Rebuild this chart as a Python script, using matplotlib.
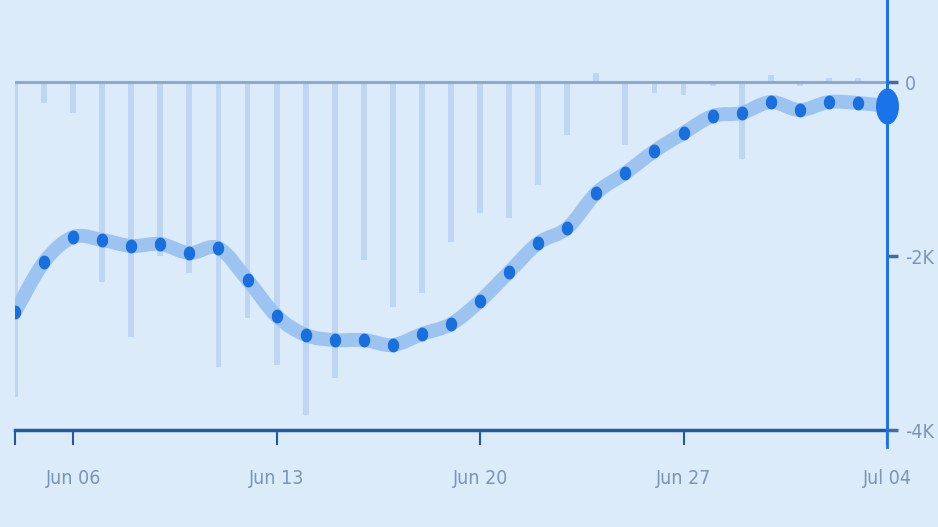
import numpy as np
import pandas as pd
import matplotlib.pyplot as plt
import matplotlib.dates as mdates
from matplotlib.path import Path
from matplotlib.patches import PathPatch

dates = pd.date_range("2024-06-04", "2024-07-04", freq="D")

# running balance (line), in units
balance = [-2644, -2069, -1782, -1816, -1885, -1862, -1966, -1908, -2276, -2690,
           -2908, -2966, -2966, -3023, -2897, -2782, -2517, -2184, -1851, -1678,
           -1276, -1046, -793, -586, -391, -356, -230, -322, -230, -241, -276]

# daily change (bars)
daily = [-3620, -240, -360, -2300, -2930, -2000, -2200, -3280, -2710, -3250,
         -3830, -3400, -2050, -2590, -2430, -1840, -1510, -1560, -1180, -610,
         100, -720, -130, -150, -50, -880, 80, -50, 50, 50, 0]

tick_dates = pd.to_datetime(["2024-06-06", "2024-06-13", "2024-06-20", "2024-06-27", "2024-07-04"])
ytick_vals = [0, -2000, -4000]
ytick_labels = ["0", "-2K", "-4K"]

bg = "#dcebf9"
label_col = "#7d94b6"


def smooth_path(x, y):
    # cubic bezier through the points (catmull-rom style handles)
    pts = np.column_stack([x, y])
    verts = [pts[0]]
    codes = [Path.MOVETO]
    n = len(pts)
    for i in range(n - 1):
        p0 = pts[max(i - 1, 0)]
        p1 = pts[i]
        p2 = pts[i + 1]
        p3 = pts[min(i + 2, n - 1)]
        c1 = p1 + (p2 - p0) / 6
        c2 = p2 - (p3 - p1) / 6
        verts += [c1, c2, p2]
        codes += [Path.CURVE4] * 3
    return Path(verts, codes)


fig = plt.figure(figsize=(9.38, 5.27), dpi=100)
fig.patch.set_facecolor(bg)
ax = fig.add_axes([15 / 938, (527 - 430) / 527, (887 - 15) / 938, 430 / 527])
ax.set_facecolor(bg)

ax.bar(dates, daily, width=0.2, color="#bed6f1", zorder=1)
ax.axhline(0, color="#8aaad0", lw=2.2, zorder=2)

xnum = mdates.date2num(dates)
ax.add_patch(PathPatch(smooth_path(xnum, np.array(balance, float)), fill=False,
                       edgecolor="#9dc4f0", lw=10, capstyle="round",
                       joinstyle="round", zorder=3))

# slightly tall ellipse markers, like the reference
t = np.linspace(0, 2 * np.pi, 40)
ell = Path(np.column_stack([0.8 * np.cos(t), np.sin(t)]))
ell_big = Path(np.column_stack([0.62 * np.cos(t), np.sin(t)]))
ax.plot(dates[:-1], balance[:-1], ls="none", marker=ell, ms=9,
        color="#1a6fdf", zorder=4)
ax.plot(dates[-1:], balance[-1:], ls="none", marker=ell_big, ms=25,
        color="#1a73e8", zorder=5, clip_on=False)

ax.set_xlim(dates[0], dates[-1])
ax.set_ylim(-4000, 943)

for s in ["top", "left"]:
    ax.spines[s].set_visible(False)
ax.spines["bottom"].set_color("#23599e")
ax.spines["bottom"].set_linewidth(2.5)
ax.spines["right"].set_color("#1a73e8")
ax.spines["right"].set_linewidth(2)
ax.plot([dates[-1], dates[-1]], [-0.04, 1], color="#1a73e8", lw=2,
        transform=ax.get_xaxis_transform(), clip_on=False, zorder=6)

ax.set_xticks(list(tick_dates) + [dates[0]])
ax.xaxis.set_major_formatter(plt.FixedFormatter([d.strftime("%b %d") for d in tick_dates] + [""]))
ax.tick_params(axis="x", direction="out", length=11, width=1.5, color="#23599e",
               labelcolor=label_col, labelsize=14, pad=17)

ax.yaxis.tick_right()
ax.set_yticks(ytick_vals)
ax.set_yticklabels(ytick_labels)
ax.tick_params(axis="y", direction="out", length=8, width=2.5, color="#4a6a90",
               labelcolor=label_col, labelsize=14, pad=5)

for lbl in ax.get_xticklabels() + ax.get_yticklabels():
    lbl.set_fontstretch("condensed")

fig.savefig("out.png", dpi=100, facecolor=bg)
